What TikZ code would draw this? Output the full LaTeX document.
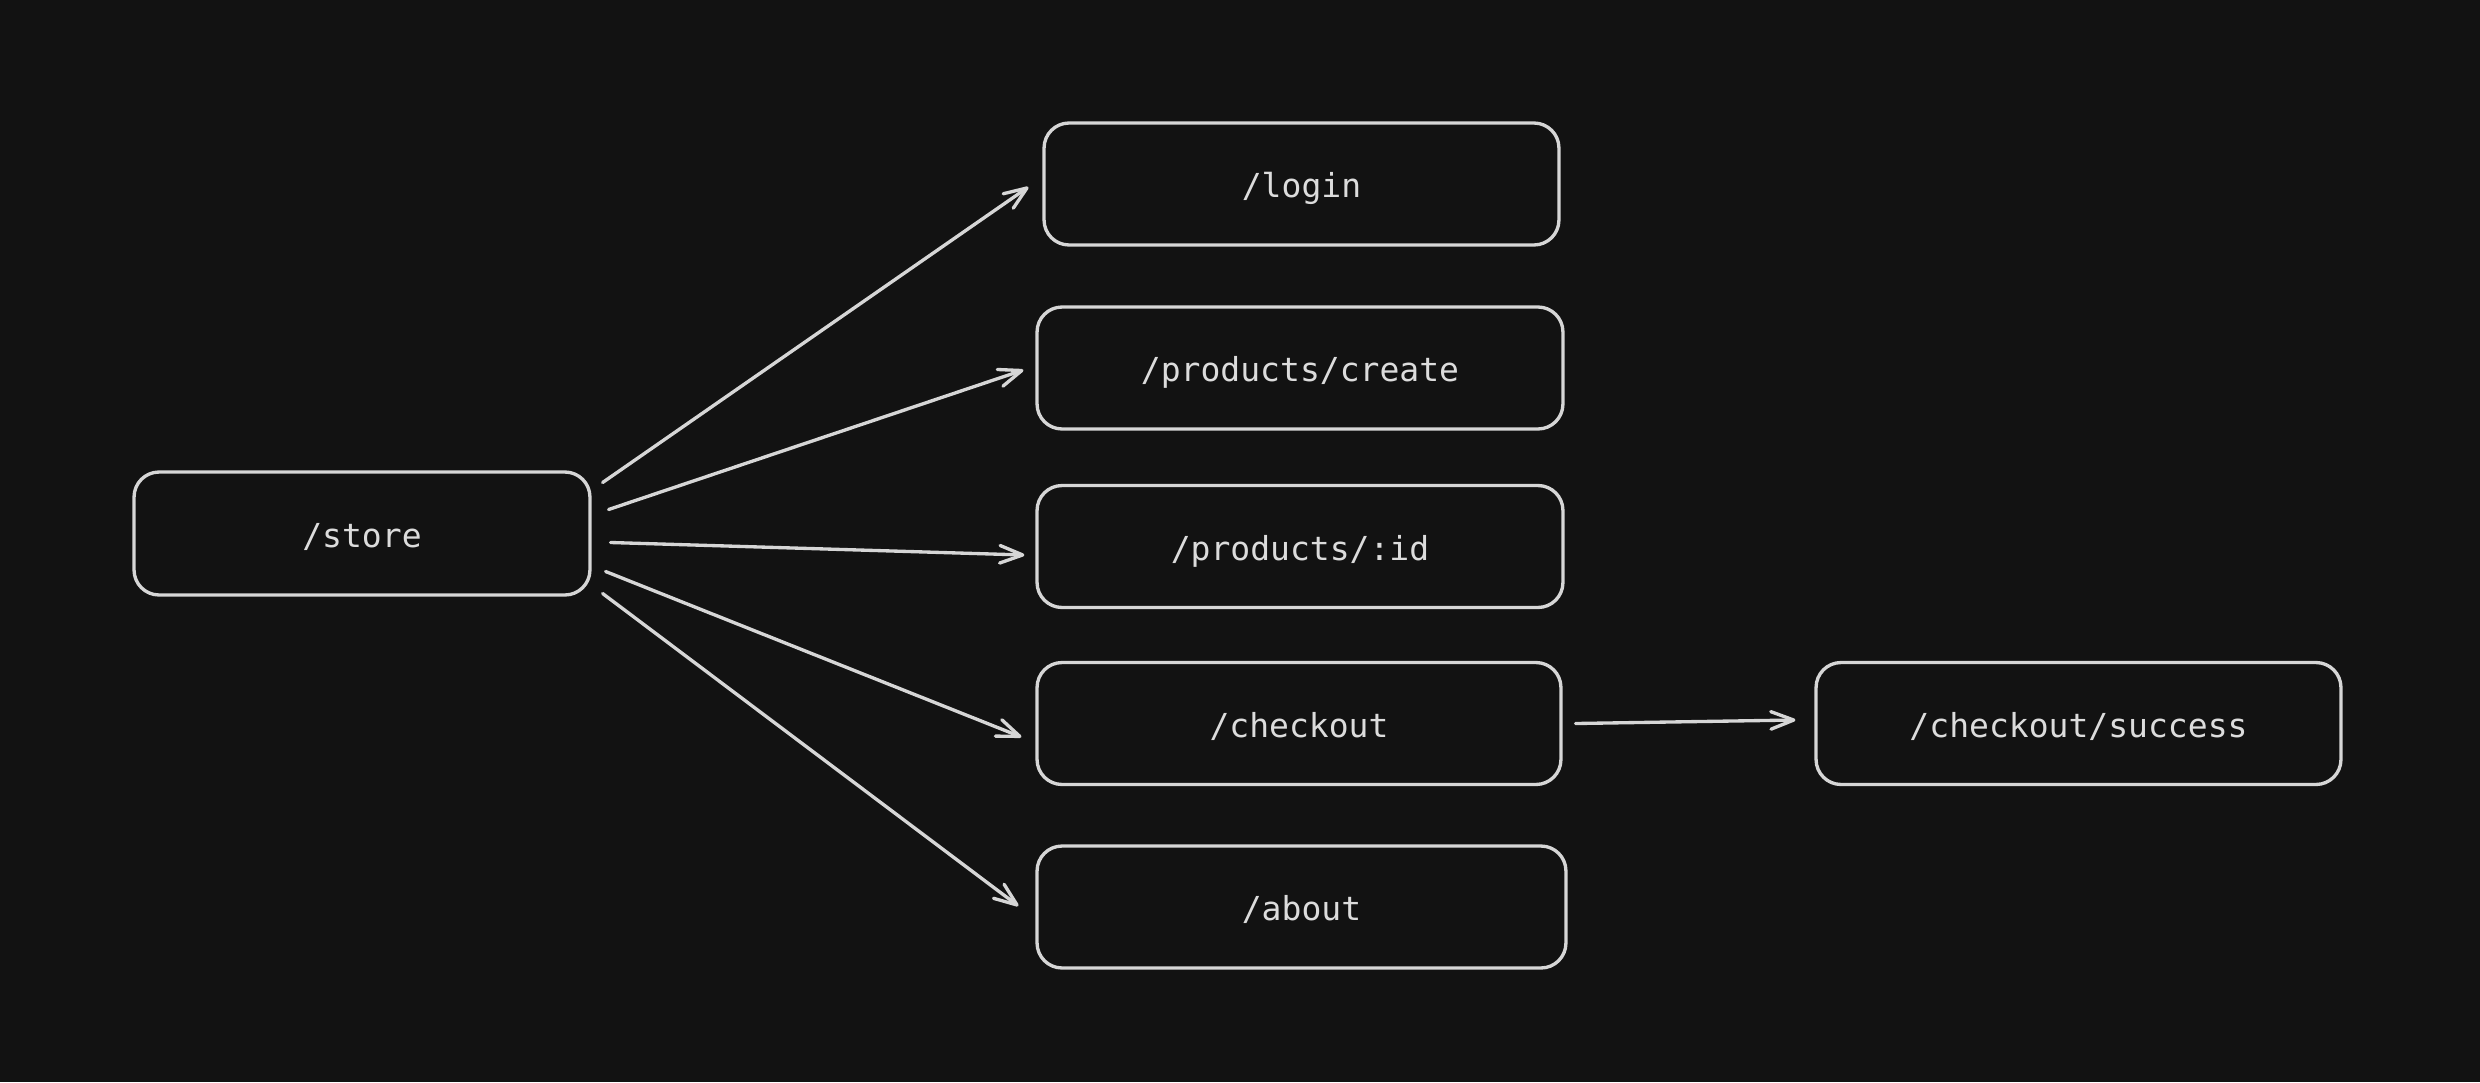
\documentclass[tikz,border=0pt]{standalone}
\usepackage{fontspec}
\newfontfamily\codefont{DejaVu Sans Mono}
\usetikzlibrary{arrows.meta,calc}
\definecolor{bgc}{HTML}{121212}
\definecolor{strokec}{HTML}{D6D6D6}
\definecolor{textc}{HTML}{DCDCDC}
\begin{document}
\begin{tikzpicture}[x=0.02cm,y=-0.02cm,
  routebox/.style={draw=strokec, line width=1.9pt, rounded corners=0.5cm, fill=bgc,
    text=textc, inner sep=0pt, minimum height=2.44cm,
    text height=16.5pt, text depth=0.8pt,
    font=\codefont\fontsize{18.8}{22}\selectfont},
  arr/.style={draw=strokec, line width=1.9pt, line cap=round,
    -{Straight Barb[length=13pt,width=10pt,line cap=round,line join=round]}}]
\fill[bgc] (0,0) rectangle (2480,1082);
\useasboundingbox (0,0) rectangle (2480,1082);
\node[routebox, minimum width=9.12cm, minimum height=2.46cm] (store) at (362,533.5) {/store};
\node[routebox, minimum width=10.3cm] (login) at (1301.5,184) {/login};
\node[routebox, minimum width=10.52cm] (create) at (1300,368) {/products/create};
\node[routebox, minimum width=10.52cm] (id) at (1300,546.5) {/products/:id};
\node[routebox, minimum width=10.48cm] (checkout) at (1299,723.5) {/checkout};
\node[routebox, minimum width=10.58cm] (about) at (1301.5,907) {/about};
\node[routebox, minimum width=10.5cm] (success) at (2078.5,723.5) {/checkout/success};
\draw[arr] ($(store.east)+(11,-51)$) -- ($(login.west)+(-14,3)$);
\draw[arr] ($(store.east)+(17,-24)$) -- ($(create.west)+(-12,2)$);
\draw[arr] ($(store.east)+(19,9)$) -- ($(id.west)+(-11,8.5)$);
\draw[arr] ($(store.east)+(14,38)$) -- ($(checkout.west)+(-14,13.5)$);
\draw[arr] ($(store.east)+(11,60)$) -- ($(about.west)+(-17,-1)$);
\draw[arr] ($(checkout.east)+(13,0)$) -- ($(success.west)+(-19,-3.5)$);
\end{tikzpicture}
\end{document}
